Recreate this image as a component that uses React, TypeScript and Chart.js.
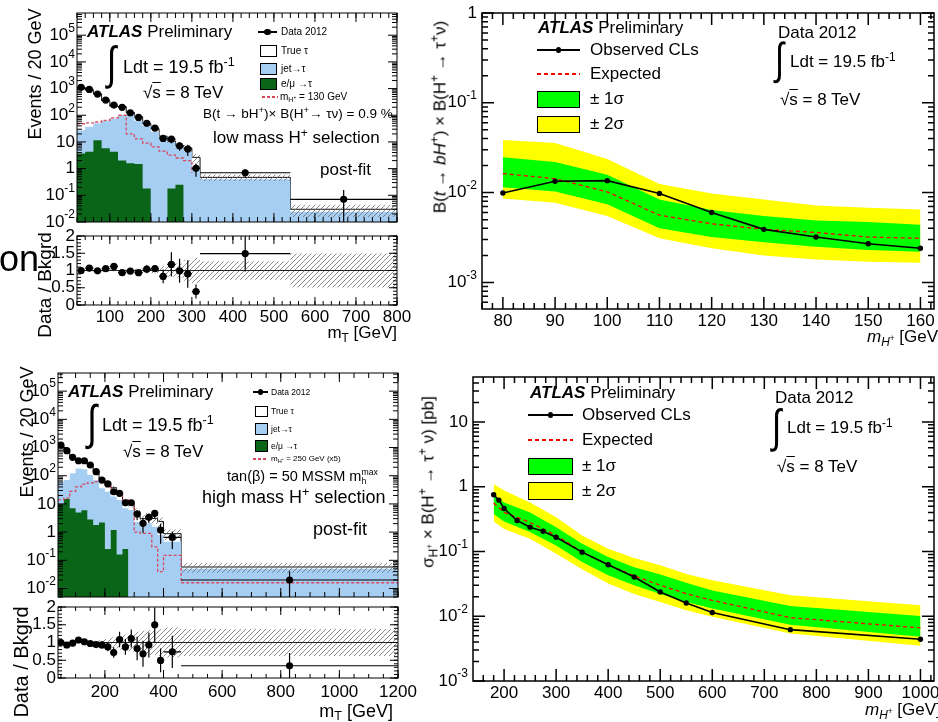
import React, { useEffect, useRef } from 'react';
import { Chart, registerables } from 'chart.js';

Chart.register(...registerables);

const PAGE_W = 938;
const PAGE_H = 722;
const FONT = '"Liberation Sans", Arial, Helvetica, sans-serif';

const BLUE = '#a6cdf2';
const GREEN_DARK = '#0b6519';
const SIG_RED = '#d9485f';
const BAND_GREEN = '#00ff00';
const BAND_YELLOW = '#ffff00';

// ---------- low-mass H+ selection: mT distribution (Events / 20 GeV) ----------
const lowEdges = [20, 40, 60, 80, 100, 120, 140, 160, 180, 200, 220, 240, 260, 280, 300, 320, 540, 800];
const lowData = [1110, 933, 622, 371, 241, 198, 124, 83, 50, 33, 13.6, 12.8, 7.2, 5.4, 1.03, 0.7, 0.071];
const lowDataErr = [33, 26, 25, 18, 13, 13, 10, 8, 5.8, 3.1, 3.3, 3.8, 2.5, 2.4, 0.53, 0.245, 0.087];
const lowLepFake = [3.7, 4.3, 11.7, 5.8, 4.3, 2.0, 1.6, 1.5, 0.18, 1.3, 0, 0.18, 0.25, 1.0, 0, 0, 0];
const lowJetFake = [24, 33, 38, 56, 72, 98, 105, 60, 39, 23, 15.7, 9.8, 6.4, 3.3, 1.0, 0.4, 0.024];
const lowTrueTau = [1082, 835, 578, 291, 139, 111, 20, 27, 9, 7, 0.7, 0.9, 0.6, 1.7, 1.64, 0.07, 0.006];
const lowSignal = [48, 52, 56, 64, 80, 100, 20, 13, 9, 6.5, 4.5, 3.2, 2.5, 2.0, 0.7, 0, 0];
const lowSystRel = [0.02, 0.02, 0.02, 0.02, 0.03, 0.03, 0.04, 0.05, 0.06, 0.08, 0.12, 0.18, 0.2, 0.3, 0.37, 0.27, 0.49];

// ---------- high-mass H+ selection: mT distribution ----------
const highEdges = [40, 60, 80, 100, 120, 140, 160, 180, 200, 220, 240, 260, 280, 300, 320, 340, 360, 380, 400, 460, 1200];
const highData = [1230, 771, 450, 340, 340, 240, 139, 70, 51, 27, 23.8, 11, 11, 4.4, 2.05, 3.35, 4.6, 1.19, 0.65, 0.02];
const highDataErr = [37, 29, 21, 16, 17, 15, 12, 7.5, 7, 5.6, 4.8, 2.8, 2.5, 1.75, 1.1, 1.26, 1.5, 0.8, 0.4, 0.021];
const highLepFake = [10, 15, 7, 5, 6, 2.8, 1.8, 2.2, 0.25, 1.2, 0.16, 0.25, 0.8, 0, 0, 0.3, 0, 0, 0, 0];
const highJetFake = [52, 55, 115, 177, 164, 104, 68, 34, 27, 17, 13.6, 6.8, 5.3, 2.3, 1.56, 1.75, 1.56, 0.79, 0.46, 0.05];
const highTrueTau = [1168, 759, 337, 136, 163, 140, 78, 39, 31, 19.5, 8.2, 5.5, 3.8, 3.0, 1.44, 1.55, 1.51, 1.61, 0.42, 0.008];
const highSignal = [14, 16, 28, 40, 50, 56, 62, 60, 50, 30, 22, 14, 10, 1.0, 0.9, 0.9, 0.3, 0.04, 0.15, 0.016];
const highSystRel = [0.02, 0.02, 0.02, 0.03, 0.03, 0.04, 0.05, 0.07, 0.1, 0.15, 0.2, 0.22, 0.25, 0.3, 0.33, 0.35, 0.35, 0.38, 0.42, 0.38];

// ---------- limit on B(t -> bH+) x B(H+ -> tau nu), low mass ----------
const lightMass = [80, 90, 100, 110, 120, 130, 140, 150, 160];
const lightObserved = [0.0099, 0.0134, 0.0136, 0.0098, 0.006, 0.0039, 0.0032, 0.0027, 0.0024];
const lightExpected = [0.0163, 0.0143, 0.0102, 0.0056, 0.0045, 0.0039, 0.0036, 0.0032, 0.0031];
const lightPlus1 = [0.0247, 0.0219, 0.0158, 0.0084, 0.0064, 0.0055, 0.0049, 0.0047, 0.0044];
const lightMinus1 = [0.0115, 0.0103, 0.0074, 0.004, 0.0032, 0.0028, 0.0025, 0.0023, 0.0022];
const lightPlus2 = [0.0385, 0.0356, 0.0237, 0.0125, 0.0098, 0.0084, 0.0072, 0.0068, 0.0065];
const lightMinus2 = [0.0086, 0.0077, 0.0055, 0.0031, 0.0024, 0.002, 0.0018, 0.0017, 0.00166];

// ---------- limit on sigma x B(H+ -> tau nu), high mass ----------
const heavyObsMass = [180, 190, 200, 225, 250, 275, 300, 350, 400, 450, 500, 550, 600, 750, 1000];
const heavyObserved = [0.75, 0.62, 0.46, 0.3, 0.237, 0.205, 0.166, 0.0975, 0.0624, 0.0403, 0.0237, 0.016, 0.0114, 0.0062, 0.0044];
const heavyExpMass = [180, 200, 250, 300, 350, 400, 450, 500, 550, 600, 750, 1000];
const heavyExpected = [0.56, 0.4, 0.28, 0.177, 0.0975, 0.062, 0.042, 0.03, 0.0223, 0.0176, 0.0095, 0.0066];
const heavyPlus1 = [0.74, 0.57, 0.4, 0.237, 0.131, 0.082, 0.057, 0.044, 0.033, 0.025, 0.0144, 0.0101];
const heavyMinus1 = [0.38, 0.29, 0.199, 0.124, 0.069, 0.043, 0.03, 0.022, 0.0166, 0.0131, 0.0074, 0.0048];
const heavyPlus2 = [1.1, 0.87, 0.57, 0.337, 0.176, 0.11, 0.079, 0.061, 0.045, 0.036, 0.021, 0.0148];
const heavyMinus2 = [0.29, 0.223, 0.157, 0.092, 0.053, 0.032, 0.022, 0.0166, 0.0124, 0.0098, 0.0054, 0.0035];

// ---------- helpers ----------
type Area = { l: number; t: number; r: number; b: number };
type Lbl = { v: number; t: string; e?: string };

const padFor = (a: Area) => ({ left: a.l, top: a.t, right: PAGE_W - a.r, bottom: PAGE_H - a.b });

const steps = (edges: number[], vals: number[]) => [
  ...vals.map((v, i) => ({ x: edges[i], y: v })),
  { x: edges[edges.length - 1], y: vals[vals.length - 1] },
];
const centers = (edges: number[]) => edges.slice(0, -1).map((e, i) => (e + edges[i + 1]) / 2);

function linTicks(min: number, max: number, step: number) {
  const out: number[] = [];
  for (let v = Math.ceil(min / step - 1e-9) * step; v <= max + 1e-9; v += step) out.push(+v.toFixed(6));
  return out;
}
function logTicks(min: number, max: number) {
  const major: number[] = [];
  const minor: number[] = [];
  for (let e = Math.floor(Math.log10(min)); e <= Math.ceil(Math.log10(max)); e++) {
    for (let m = 1; m < 10; m++) {
      const v = m * Math.pow(10, e);
      if (v < min * 0.999 || v > max * 1.001) continue;
      (m === 1 ? major : minor).push(v);
    }
  }
  return { major, minor };
}

type FrameSpec = {
  xMajor: number[]; xMinor: number[]; yMajor: number[]; yMinor: number[];
  majorLen: number; minorLen: number; lineWidth: number;
  xLabels?: Lbl[]; yLabels?: Lbl[];
  xFont?: number; yFont?: number; expFont?: number;
  xLabelDy?: number; yLabelGap?: number; expRaise?: number;
};

// axis frame with inward ticks on all four sides, plus tick labels
function framePlugin(s: FrameSpec) {
  return {
    id: 'rootFrame',
    afterDraw(chart: any) {
      const { ctx, chartArea: a } = chart;
      const xs = chart.scales.x;
      const ys = chart.scales.y;
      ctx.save();
      ctx.strokeStyle = '#000';
      ctx.lineWidth = s.lineWidth;
      ctx.beginPath();
      const xt = (vals: number[], len: number) =>
        vals.forEach((v) => {
          const p = xs.getPixelForValue(v);
          if (p < a.left - 0.5 || p > a.right + 0.5) return;
          ctx.moveTo(p, a.bottom);
          ctx.lineTo(p, a.bottom - len);
          ctx.moveTo(p, a.top);
          ctx.lineTo(p, a.top + len);
        });
      const yt = (vals: number[], len: number) =>
        vals.forEach((v) => {
          const p = ys.getPixelForValue(v);
          if (p < a.top - 0.5 || p > a.bottom + 0.5) return;
          ctx.moveTo(a.left, p);
          ctx.lineTo(a.left + len, p);
          ctx.moveTo(a.right, p);
          ctx.lineTo(a.right - len, p);
        });
      xt(s.xMinor, s.minorLen);
      xt(s.xMajor, s.majorLen);
      yt(s.yMinor, s.minorLen);
      yt(s.yMajor, s.majorLen);
      ctx.stroke();
      ctx.strokeRect(a.left, a.top, a.right - a.left, a.bottom - a.top);

      ctx.fillStyle = '#000';
      ctx.textBaseline = 'middle';
      if (s.xLabels) {
        ctx.font = `${s.xFont}px ${FONT}`;
        ctx.textAlign = 'center';
        s.xLabels.forEach((l) => ctx.fillText(l.t, xs.getPixelForValue(l.v), a.bottom + (s.xLabelDy || 12)));
      }
      if (s.yLabels) {
        ctx.textAlign = 'left';
        const base = `${s.yFont}px ${FONT}`;
        const exp = `${s.expFont}px ${FONT}`;
        s.yLabels.forEach((l) => {
          const py = ys.getPixelForValue(l.v);
          ctx.font = base;
          const bw = ctx.measureText(l.t).width;
          let ew = 0;
          if (l.e) {
            ctx.font = exp;
            ew = ctx.measureText(l.e).width;
          }
          const right = a.left - (s.yLabelGap || 3);
          ctx.font = base;
          ctx.fillText(l.t, right - ew - bw, py);
          if (l.e) {
            ctx.font = exp;
            ctx.fillText(l.e, right - ew, py - (s.expRaise || 6));
          }
        });
      }
      ctx.restore();
    },
  };
}

type ErrPt = { x: number; y: number; xlo: number; xhi: number; ylo: number; yhi: number };

// data error bars (vertical statistical, horizontal bin width)
function errorPlugin(points: ErrPt[], lw: number) {
  return {
    id: 'errBars',
    afterDatasetsDraw(chart: any) {
      const { ctx, chartArea: a } = chart;
      const xs = chart.scales.x;
      const ys = chart.scales.y;
      ctx.save();
      ctx.beginPath();
      ctx.rect(a.left, a.top, a.right - a.left, a.bottom - a.top);
      ctx.clip();
      ctx.strokeStyle = '#000';
      ctx.lineWidth = lw;
      ctx.beginPath();
      points.forEach((p) => {
        if (p.y < ys.min || p.y > ys.max) return;
        const px = xs.getPixelForValue(p.x);
        const py = ys.getPixelForValue(p.y);
        ctx.moveTo(xs.getPixelForValue(p.xlo), py);
        ctx.lineTo(xs.getPixelForValue(p.xhi), py);
        ctx.moveTo(px, ys.getPixelForValue(Math.max(p.ylo, 0)));
        ctx.lineTo(px, ys.getPixelForValue(p.yhi));
      });
      ctx.stroke();
      ctx.restore();
    },
  };
}

function hatchPattern(color: string) {
  const c = document.createElement('canvas');
  c.width = 5;
  c.height = 5;
  const g = c.getContext('2d')!;
  g.strokeStyle = color;
  g.lineWidth = 0.9;
  g.beginPath();
  g.moveTo(0, 5);
  g.lineTo(5, 0);
  g.moveTo(-2.5, 2.5);
  g.lineTo(2.5, -2.5);
  g.moveTo(2.5, 7.5);
  g.lineTo(7.5, 2.5);
  g.stroke();
  return g.createPattern(c, 'repeat')!;
}

type HistSpec = {
  edges: number[]; data: number[]; dataErr: number[];
  lep: number[]; jet: number[]; tru: number[]; signal: number[]; syst: number[];
};

function stackOf(h: HistSpec) {
  const green = h.lep;
  const blue = h.lep.map((v, i) => v + h.jet[i]);
  const total = blue.map((v, i) => v + h.tru[i]);
  return { green, blue, total };
}

const stepLine = (pts: any[], extra: any) => ({
  data: pts, stepped: true, pointRadius: 0, borderWidth: 1, borderColor: 'rgba(0,0,0,0)', fill: false, ...extra,
});

function histMainConfig(h: HistSpec, area: Area, xMin: number, xMax: number, yMin: number, yMax: number,
  xMajorStep: number, xMinorStep: number, yLabels: Lbl[], hatch: CanvasPattern) {
  const { green, blue, total } = stackOf(h);
  const mids = centers(h.edges);
  const up = total.map((v, i) => v * (1 + h.syst[i]));
  const dn = total.map((v, i) => v * (1 - h.syst[i]));
  const pts = h.data.map((d, i) => ({ x: mids[i], y: d }));
  const errs: ErrPt[] = h.data.map((d, i) => ({
    x: mids[i], y: d, xlo: h.edges[i], xhi: h.edges[i + 1], ylo: d - h.dataErr[i], yhi: d + h.dataErr[i],
  }));
  const lt = logTicks(yMin, yMax);
  return {
    type: 'line',
    data: {
      datasets: [
        { data: pts, showLine: false, pointRadius: 3.6, pointBackgroundColor: '#000', pointBorderWidth: 0, borderColor: '#000' },
        stepLine(steps(h.edges, h.signal), { borderColor: SIG_RED, borderWidth: 1.3, borderDash: [3, 2] }),
        stepLine(steps(h.edges, up), { fill: '+1', backgroundColor: hatch }),
        stepLine(steps(h.edges, dn), {}),
        stepLine(steps(h.edges, green), { fill: 'start', backgroundColor: GREEN_DARK }),
        stepLine(steps(h.edges, blue), { fill: 'start', backgroundColor: BLUE }),
        stepLine(steps(h.edges, total), { fill: 'start', backgroundColor: '#ffffff', borderColor: '#111' }),
      ],
    },
    options: {
      animation: false, responsive: false, events: [],
      layout: { padding: padFor(area) },
      plugins: { legend: { display: false }, tooltip: { enabled: false } },
      scales: {
        x: { type: 'linear', display: false, min: xMin, max: xMax, bounds: 'data' },
        y: { type: 'logarithmic', display: false, min: yMin, max: yMax },
      },
    },
    plugins: [
      errorPlugin(errs, 1.2),
      framePlugin({
        xMajor: linTicks(xMin, xMax, xMajorStep), xMinor: linTicks(xMin, xMax, xMinorStep),
        yMajor: lt.major, yMinor: lt.minor, majorLen: 9, minorLen: 5, lineWidth: 1,
        yLabels, yFont: 17, expFont: 12, yLabelGap: 2, expRaise: 7,
      }),
    ],
  };
}

function histRatioConfig(h: HistSpec, area: Area, xMin: number, xMax: number,
  xMajorStep: number, xMinorStep: number, xLabelStep: number, xLabelDy: number, hatch: CanvasPattern) {
  const { total } = stackOf(h);
  const mids = centers(h.edges);
  const ratio = h.data.map((d, i) => d / total[i]);
  const pts = ratio.map((r, i) => ({ x: mids[i], y: r })).filter((p) => p.y <= 2);
  const errs: ErrPt[] = h.data.map((d, i) => ({
    x: mids[i], y: ratio[i], xlo: h.edges[i], xhi: h.edges[i + 1],
    ylo: (d - h.dataErr[i]) / total[i], yhi: (d + h.dataErr[i]) / total[i],
  }));
  const up = h.syst.map((s) => 1 + s);
  const dn = h.syst.map((s) => 1 - s);
  return {
    type: 'line',
    data: {
      datasets: [
        { data: pts, showLine: false, pointRadius: 3.6, pointBackgroundColor: '#000', pointBorderWidth: 0, borderColor: '#000' },
        { data: [{ x: xMin, y: 1 }, { x: xMax, y: 1 }], borderColor: '#222', borderWidth: 1, pointRadius: 0, fill: false },
        stepLine(steps(h.edges, up), { fill: '+1', backgroundColor: hatch }),
        stepLine(steps(h.edges, dn), {}),
      ],
    },
    options: {
      animation: false, responsive: false, events: [],
      layout: { padding: padFor(area) },
      plugins: { legend: { display: false }, tooltip: { enabled: false } },
      scales: {
        x: { type: 'linear', display: false, min: xMin, max: xMax, bounds: 'data' },
        y: { type: 'linear', display: false, min: 0, max: 2, bounds: 'data' },
      },
    },
    plugins: [
      errorPlugin(errs, 1.2),
      framePlugin({
        xMajor: linTicks(xMin, xMax, xMajorStep), xMinor: linTicks(xMin, xMax, xMinorStep),
        yMajor: [0, 0.5, 1, 1.5, 2], yMinor: linTicks(0, 2, 0.1), majorLen: 8, minorLen: 4, lineWidth: 1,
        xLabels: linTicks(xLabelStep, xMax, xLabelStep).map((v) => ({ v, t: String(v) })),
        xFont: 17, xLabelDy,
        yLabels: [
          { v: 0, t: '0' }, { v: 0.5, t: '0.5' }, { v: 1, t: '1' }, { v: 1.5, t: '1.5' }, { v: 2, t: '2' },
        ],
        yFont: 17, expFont: 12, yLabelGap: 2,
      }),
    ],
  };
}

type LimitSpec = {
  obsMass: number[]; obs: number[]; expMass: number[]; exp: number[];
  p1: number[]; m1: number[]; p2: number[]; m2: number[];
};

function limitConfig(s: LimitSpec, area: Area, xMin: number, xMax: number, yMin: number, yMax: number,
  xMajorStep: number, xMinorStep: number, xLabels: number[], yLabels: Lbl[]) {
  const at = (arr: number[]) => s.expMass.map((m, i) => ({ x: m, y: arr[i] }));
  const lt = logTicks(yMin, yMax);
  const band = (extra: any) => ({ pointRadius: 0, borderWidth: 1, borderColor: 'rgba(0,0,0,0)', fill: false, ...extra });
  return {
    type: 'line',
    data: {
      datasets: [
        {
          data: s.obsMass.map((m, i) => ({ x: m, y: s.obs[i] })),
          borderColor: '#000', borderWidth: 1.6, pointRadius: 2.7, pointBackgroundColor: '#000', pointBorderWidth: 0, fill: false,
        },
        { data: at(s.exp), borderColor: '#ff0000', borderWidth: 1.3, borderDash: [4, 3], pointRadius: 0, fill: false },
        band({ data: at(s.p1), fill: '+1', backgroundColor: BAND_GREEN }),
        band({ data: at(s.m1) }),
        band({ data: at(s.p2), fill: '+1', backgroundColor: BAND_YELLOW }),
        band({ data: at(s.m2) }),
      ],
    },
    options: {
      animation: false, responsive: false, events: [],
      layout: { padding: padFor(area) },
      plugins: { legend: { display: false }, tooltip: { enabled: false } },
      scales: {
        x: { type: 'linear', display: false, min: xMin, max: xMax, bounds: 'data' },
        y: { type: 'logarithmic', display: false, min: yMin, max: yMax },
      },
    },
    plugins: [
      framePlugin({
        xMajor: linTicks(xMin, xMax, xMajorStep), xMinor: linTicks(xMin, xMax, xMinorStep),
        yMajor: lt.major, yMinor: lt.minor, majorLen: 12, minorLen: 6, lineWidth: 1.5,
        xLabels: xLabels.map((v) => ({ v, t: String(v) })), xFont: 17, xLabelDy: 12,
        yLabels, yFont: 17, expFont: 12, yLabelGap: 5, expRaise: 7,
      }),
    ],
  };
}

// ---------- overlay text helpers ----------
function T({ x, y, fs, right, children, style }: any) {
  const pos: any = right ? { right: PAGE_W - x } : { left: x };
  return (
    <div style={{ position: 'absolute', top: y - fs * 0.52, ...pos, fontSize: fs, lineHeight: 1, whiteSpace: 'nowrap', fontFamily: FONT, color: '#000', ...style }}>
      {children}
    </div>
  );
}
function R({ cx, cy, fs, children }: any) {
  return (
    <div style={{ position: 'absolute', left: cx, top: cy, fontSize: fs, lineHeight: 1, whiteSpace: 'nowrap', fontFamily: FONT, color: '#000', transform: 'translate(-50%, -50%) rotate(-90deg)' }}>
      {children}
    </div>
  );
}
const Sup = ({ children }: any) => <span style={{ fontSize: '0.7em', position: 'relative', top: '-0.55em' }}>{children}</span>;
const Sub = ({ children }: any) => <span style={{ fontSize: '0.7em', position: 'relative', top: '0.3em' }}>{children}</span>;
const Sqrt = ({ children }: any) => (
  <span>√<span style={{ textDecoration: 'overline' }}>{children}</span></span>
);
const Atlas = () => (
  <span><b><i>ATLAS</i></b> Preliminary</span>
);
function Integral({ x, top, h }: any) {
  return (
    <div style={{ position: 'absolute', left: x, top, fontSize: h * 0.78, lineHeight: 1, fontFamily: FONT, transform: 'scaleY(1.35)', transformOrigin: 'top left' }}>∫</div>
  );
}
function Box({ x, y, w, h, bg }: any) {
  return <div style={{ position: 'absolute', left: x, top: y, width: w, height: h, background: bg, border: '1px solid #000', boxSizing: 'border-box' }} />;
}
function HLine({ x, y, w, color, th = 1, dash }: any) {
  const bg = dash
    ? `repeating-linear-gradient(90deg, ${color} 0px, ${color} ${dash[0]}px, transparent ${dash[0]}px, transparent ${dash[0] + dash[1]}px)`
    : color;
  return <div style={{ position: 'absolute', left: x, top: y - th / 2, width: w, height: th, background: bg }} />;
}
function Dot({ cx, cy, r }: any) {
  return <div style={{ position: 'absolute', left: cx - r, top: cy - r, width: 2 * r, height: 2 * r, borderRadius: '50%', background: '#000' }} />;
}

const lowHist: HistSpec = {
  edges: lowEdges, data: lowData, dataErr: lowDataErr, lep: lowLepFake, jet: lowJetFake,
  tru: lowTrueTau, signal: lowSignal, syst: lowSystRel,
};
const highHist: HistSpec = {
  edges: highEdges, data: highData, dataErr: highDataErr, lep: highLepFake, jet: highJetFake,
  tru: highTrueTau, signal: highSignal, syst: highSystRel,
};
const lightLimit: LimitSpec = {
  obsMass: lightMass, obs: lightObserved, expMass: lightMass, exp: lightExpected,
  p1: lightPlus1, m1: lightMinus1, p2: lightPlus2, m2: lightMinus2,
};
const heavyLimit: LimitSpec = {
  obsMass: heavyObsMass, obs: heavyObserved, expMass: heavyExpMass, exp: heavyExpected,
  p1: heavyPlus1, m1: heavyMinus1, p2: heavyPlus2, m2: heavyMinus2,
};

const histYLabels: Lbl[] = [
  { v: 0.01, t: '10', e: '-2' }, { v: 0.1, t: '10', e: '-1' }, { v: 1, t: '1' }, { v: 10, t: '10' },
  { v: 100, t: '10', e: '2' }, { v: 1e3, t: '10', e: '3' }, { v: 1e4, t: '10', e: '4' }, { v: 1e5, t: '10', e: '5' },
];

export default function App() {
  const c1 = useRef<HTMLCanvasElement>(null);
  const c2 = useRef<HTMLCanvasElement>(null);
  const c3 = useRef<HTMLCanvasElement>(null);
  const c4 = useRef<HTMLCanvasElement>(null);
  const c5 = useRef<HTMLCanvasElement>(null);
  const c6 = useRef<HTMLCanvasElement>(null);

  useEffect(() => {
    document.body.style.margin = '0';
    const hatch = hatchPattern('rgba(105,105,105,0.85)');
    const charts = [
      new Chart(c1.current!, histMainConfig(lowHist, { l: 77, t: 13, r: 397, b: 222 }, 20, 800, 0.01, 6.8e5, 100, 20, histYLabels, hatch) as any),
      new Chart(c2.current!, histRatioConfig(lowHist, { l: 77, t: 236, r: 397, b: 305 }, 20, 800, 100, 20, 100, 12, hatch) as any),
      new Chart(c3.current!, histMainConfig(highHist, { l: 58, t: 373, r: 398, b: 597 }, 40, 1200, 0.005, 4.4e5, 200, 50, histYLabels, hatch) as any),
      new Chart(c4.current!, histRatioConfig(highHist, { l: 58, t: 607, r: 398, b: 678 }, 40, 1200, 200, 50, 200, 14, hatch) as any),
      new Chart(c5.current!, limitConfig(lightLimit, { l: 482, t: 13, r: 937, b: 309 }, 76, 162.6, 5.06e-4, 1,
        10, 2, linTicks(80, 160, 10),
        [{ v: 1e-3, t: '10', e: '-3' }, { v: 1e-2, t: '10', e: '-2' }, { v: 0.1, t: '10', e: '-1' }, { v: 1, t: '1' }]) as any),
      new Chart(c6.current!, limitConfig(heavyLimit, { l: 473, t: 377, r: 937, b: 681 }, 140.3, 1026, 1e-3, 49.3,
        100, 20, linTicks(200, 1000, 100),
        [{ v: 1e-3, t: '10', e: '-3' }, { v: 1e-2, t: '10', e: '-2' }, { v: 0.1, t: '10', e: '-1' }, { v: 1, t: '1' }, { v: 10, t: '10' }]) as any),
    ];
    return () => charts.forEach((c) => c.destroy());
  }, []);

  const cv = (r: any) => (
    <canvas ref={r} width={PAGE_W} height={PAGE_H} style={{ position: 'absolute', left: 0, top: 0, width: PAGE_W, height: PAGE_H }} />
  );

  return (
    <div style={{ position: 'relative', width: PAGE_W, height: PAGE_H, overflow: 'hidden', background: '#fff', fontFamily: FONT }}>
      {cv(c1)}
      {cv(c2)}
      {cv(c3)}
      {cv(c4)}
      {cv(c5)}
      {cv(c6)}

      {/* low-mass distribution */}
      <R cx={35} cy={74} fs={18}>Events / 20 GeV</R>
      <R cx={44} cy={285} fs={19}>Data / Bkgrd</R>
      <T x={-1} y={260} fs={36}>on</T>
      <T x={87} y={32} fs={17}><Atlas /></T>
      <Integral x={107} top={40} h={44} />
      <T x={123} y={67} fs={18}>Ldt = 19.5 fb<Sup>-1</Sup></T>
      <T x={143} y={93} fs={17}><Sqrt>s</Sqrt> = 8 TeV</T>
      <HLine x={258} y={32} w={19} color="#000" th={1.2} />
      <Dot cx={267.5} cy={32} r={3.2} />
      <T x={281} y={32} fs={10}>Data 2012</T>
      <Box x={260} y={45} w={17} h={12} bg="#fff" />
      <T x={281} y={51} fs={10}>True τ</T>
      <Box x={260} y={63} w={17} h={12} bg={BLUE} />
      <T x={281} y={69} fs={10}>jet→τ</T>
      <Box x={260} y={78} w={17} h={12} bg={GREEN_DARK} />
      <T x={281} y={84} fs={10}>e/μ →τ</T>
      <HLine x={262} y={97} w={16} color={SIG_RED} th={1.2} dash={[3, 2]} />
      <T x={280} y={97} fs={10}>m<Sub>H<Sup>+</Sup></Sub> = 130 GeV</T>
      <T x={203} y={114} fs={13.5}>B(t → bH<Sup>+</Sup>)× B(H<Sup>+</Sup>→ τν) = 0.9 %</T>
      <T x={213} y={138} fs={17}>low mass H<Sup>+</Sup> selection</T>
      <T x={320} y={170} fs={17}>post-fit</T>
      <T x={397} y={333} fs={17} right>m<Sub>T</Sub> [GeV]</T>

      {/* high-mass distribution */}
      <R cx={27} cy={432} fs={18}>Events / 20 GeV</R>
      <R cx={21} cy={662} fs={20}>Data / Bkgrd</R>
      <T x={68} y={392} fs={17}><Atlas /></T>
      <Integral x={87} top={400} h={46} />
      <T x={102} y={425} fs={18}>Ldt = 19.5 fb<Sup>-1</Sup></T>
      <T x={123} y={452} fs={17}><Sqrt>s</Sqrt> = 8 TeV</T>
      <HLine x={253} y={392} w={15} color="#000" th={1.1} />
      <Dot cx={260.5} cy={392} r={2.8} />
      <T x={271} y={392} fs={8.5}>Data 2012</T>
      <Box x={255} y={406} w={13} h={11} bg="#fff" />
      <T x={271} y={411} fs={8.5}>True τ</T>
      <Box x={255} y={423} w={13} h={12} bg={BLUE} />
      <T x={271} y={429} fs={8.5}>jet→τ</T>
      <Box x={255} y={440} w={13} h={12} bg={GREEN_DARK} />
      <T x={271} y={446} fs={8.5}>e/μ →τ</T>
      <HLine x={253} y={459} w={15} color={SIG_RED} th={1.1} dash={[3, 2]} />
      <T x={271} y={459} fs={8}>m<Sub>H<Sup>+</Sup></Sub> = 250 GeV (x5)</T>
      <T x={227} y={476} fs={14.5}>
        tan(β) = 50 MSSM m
        <span style={{ display: 'inline-flex', flexDirection: 'column', fontSize: '0.6em', lineHeight: 1, verticalAlign: 'middle' }}>
          <span>max</span><span>h</span>
        </span>
      </T>
      <T x={202} y={497} fs={18}>high mass H<Sup>+</Sup> selection</T>
      <T x={313} y={529} fs={18}>post-fit</T>
      <T x={393} y={711} fs={18} right>m<Sub>T</Sub> [GeV]</T>

      {/* light charged Higgs limit */}
      <R cx={440} cy={117} fs={17}>
        B(<i>t</i> → <i>bH</i><Sup>+</Sup>) × B(H<Sup>+</Sup> → τ<Sup>+</Sup>ν)
      </R>
      <T x={538} y={28} fs={17}><Atlas /></T>
      <HLine x={537} y={50} w={43} color="#000" th={1.6} />
      <Dot cx={558.5} cy={50} r={2.6} />
      <T x={590} y={50} fs={17}>Observed CLs</T>
      <HLine x={537} y={74} w={43} color="#ff0000" th={1.4} dash={[4, 3]} />
      <T x={590} y={74} fs={17}>Expected</T>
      <Box x={537} y={91} w={43} h={17} bg={BAND_GREEN} />
      <T x={590} y={99} fs={17}>± 1σ</T>
      <Box x={537} y={116} w={43} h={17} bg={BAND_YELLOW} />
      <T x={590} y={124} fs={17}>± 2σ</T>
      <T x={778} y={33} fs={17}>Data 2012</T>
      <Integral x={775} top={38} h={42} />
      <T x={790} y={62} fs={17}>Ldt = 19.5 fb<Sup>-1</Sup></T>
      <T x={780} y={100} fs={17}><Sqrt>s</Sqrt> = 8 TeV</T>
      <T x={867} y={337} fs={17}><i>m</i><Sub><i>H</i><Sup>+</Sup></Sub> [GeV]</T>

      {/* heavy charged Higgs limit */}
      <R cx={428} cy={482} fs={17}>
        σ<Sub>H<Sup>+</Sup></Sub> × B(H<Sup>+</Sup> → τ<Sup>+</Sup> ν) [pb]
      </R>
      <T x={530} y={393} fs={17}><Atlas /></T>
      <HLine x={528} y={415} w={45} color="#000" th={1.6} />
      <Dot cx={550.5} cy={415} r={2.6} />
      <T x={582} y={415} fs={17}>Observed CLs</T>
      <HLine x={528} y={440} w={45} color="#ff0000" th={1.4} dash={[4, 3]} />
      <T x={582} y={440} fs={17}>Expected</T>
      <Box x={528} y={458} w={45} h={17} bg={BAND_GREEN} />
      <T x={582} y={466} fs={17}>± 1σ</T>
      <Box x={528} y={482} w={45} h={18} bg={BAND_YELLOW} />
      <T x={582} y={491} fs={17}>± 2σ</T>
      <T x={775} y={398} fs={17}>Data 2012</T>
      <Integral x={772} top={403} h={44} />
      <T x={787} y={428} fs={17}>Ldt = 19.5 fb<Sup>-1</Sup></T>
      <T x={777} y={467} fs={17}><Sqrt>s</Sqrt> = 8 TeV</T>
      <T x={865} y={710} fs={17}><i>m</i><Sub><i>H</i><Sup>+</Sup></Sub> [GeV]</T>
    </div>
  );
}
